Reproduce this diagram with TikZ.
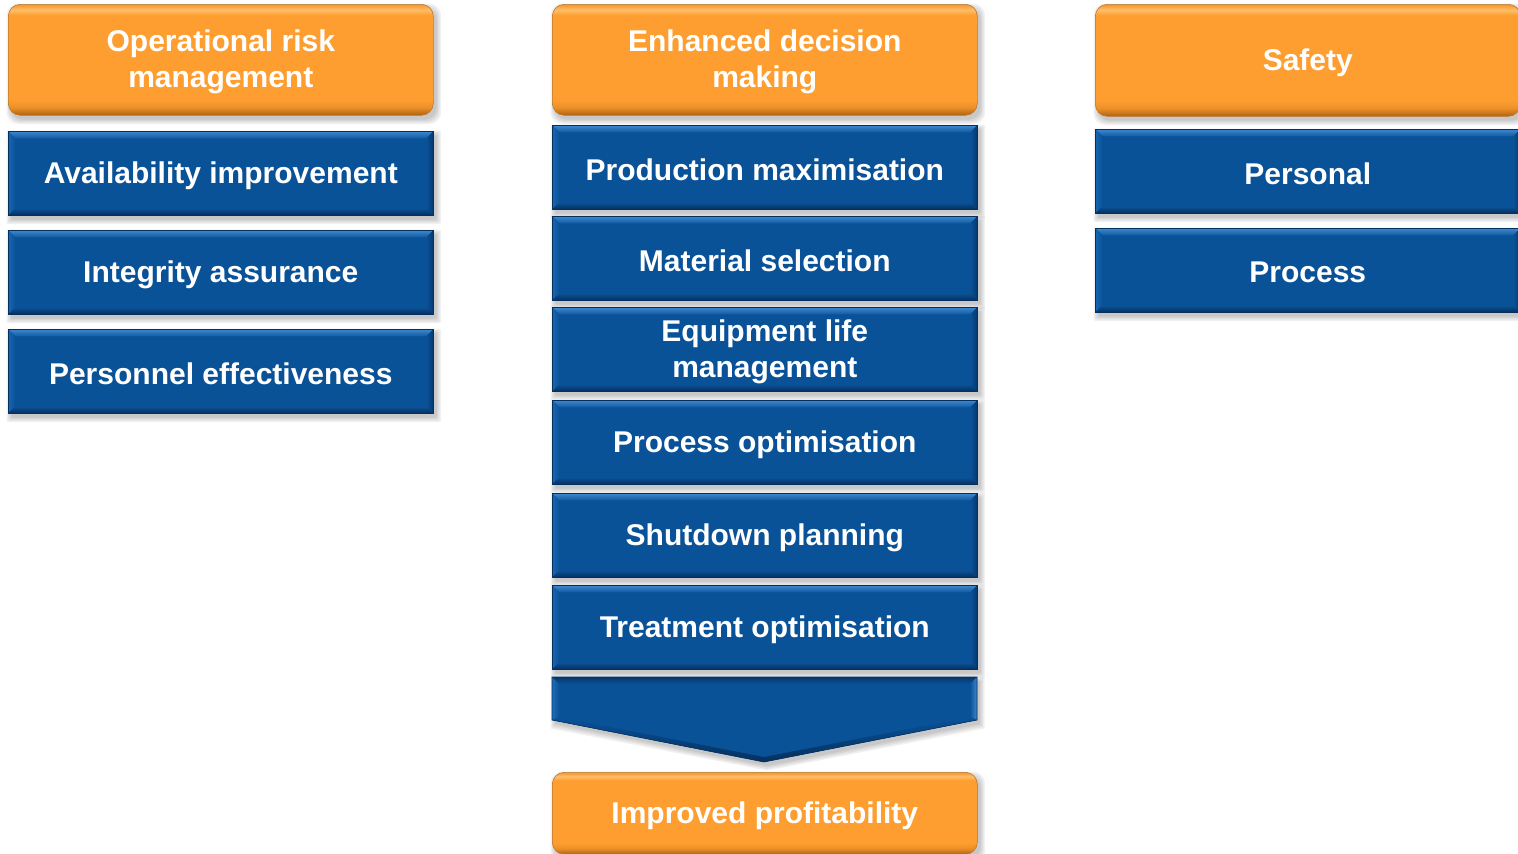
\documentclass[tikz,border=0pt]{standalone}
\usepackage{fontspec}
\setmainfont{Liberation Sans}
\usetikzlibrary{calc,backgrounds}

\definecolor{boxblue}{RGB}{10,82,152}
\definecolor{bevellight}{RGB}{60,136,208}
\definecolor{beveldark}{RGB}{5,48,94}
\definecolor{bevelside}{RGB}{22,102,178}
\definecolor{bevelright}{RGB}{6,56,108}
\definecolor{boxorange}{RGB}{254,158,48}
\definecolor{orangedark}{RGB}{176,98,16}
\definecolor{orangelight}{RGB}{255,190,104}

% vertical shading of the rounded orange boxes (box spans 25bp..75bp)
\pgfdeclareverticalshading{orangeshade}{100bp}{%
  color(0bp)=(orangedark); color(25bp)=(orangedark);
  color(28.5bp)=(boxorange!75!orangedark); color(32bp)=(boxorange);
  color(70bp)=(boxorange); color(72.5bp)=(orangelight);
  color(75bp)=(boxorange!85!orangedark); color(100bp)=(boxorange!85!orangedark)}

\newcommand\cellfont{\bfseries\fontsize{30}{36}\selectfont}

\tikzset{
  bluebox/.style={rectangle, inner sep=0pt, minimum width=425pt,
    fill=boxblue, draw=beveldark, line width=0.6pt,
    path picture={
      \path (path picture bounding box.north west) coordinate (NW)
            (path picture bounding box.north east) coordinate (NE)
            (path picture bounding box.south west) coordinate (SW)
            (path picture bounding box.south east) coordinate (SE);
      \shade[top color=bevellight, bottom color=boxblue!85!bevellight]
        (NW) -- (NE) -- ($(NE)+(-7pt,-7pt)$) -- ($(NW)+(7pt,-7pt)$) -- cycle;
      \shade[left color=bevelside, right color=boxblue]
        (NW) -- ($(NW)+(7pt,-7pt)$) -- ($(SW)+(7pt,7pt)$) -- (SW) -- cycle;
      \shade[left color=boxblue, right color=bevelright]
        (NE) -- ($(NE)+(-7pt,-7pt)$) -- ($(SE)+(-7pt,7pt)$) -- (SE) -- cycle;
      \shade[top color=boxblue, bottom color=beveldark]
        (SW) -- ($(SW)+(7pt,7pt)$) -- ($(SE)+(-7pt,7pt)$) -- (SE) -- cycle;
    }},
  orangebox/.style={rectangle, rounded corners=12pt, inner sep=0pt,
    minimum width=425pt, shade, shading=orangeshade,
    draw=orangedark!85, line width=0.6pt},
  celltext/.style={inner sep=0pt, text=white, font=\cellfont, align=center},
  shadowfill/.style={fill=black, opacity=0.06}
}

% blue bevelled box: name, left x, top y, height, text
\newcommand\bluecell[5]{%
  \node[bluebox, minimum height=#4pt, anchor=north west] (#1) at (#2,#3) {};
  \node[celltext] (#1-text) at ($(#1.center)+(0,2.5)$) {#5};}
% orange rounded box: name, left x, top y, height, text
\newcommand\orangecell[5]{%
  \node[orangebox, minimum height=#4pt, anchor=north west] (#1) at (#2,#3) {};
  \node[celltext] (#1-text) at ($(#1.center)+(0,2.5)$) {#5};}
% soft drop shadow under a named box
\newcommand\softshadow[2]{%
  \foreach \s in {0,1.5,3,4.5}{%
    \fill[shadowfill, rounded corners=#2]
      ($(#1.north west)+(3pt-\s*1pt,-4pt+\s*1pt)$) rectangle
      ($(#1.south east)+(3pt+\s*1pt,-4pt-\s*1pt)$);}}

\begin{document}
\begin{tikzpicture}[x=1pt,y=-1pt]
\useasboundingbox (0,0) rectangle (1518,854);
\clip (0,0) rectangle (1518,854);

% left column
\orangecell{orm}{8}{4}{111}{Operational risk\\management}
\bluecell{avail}{8}{131}{84}{Availability improvement}
\bluecell{integ}{8}{230}{84}{Integrity assurance}
\bluecell{pers}{8}{329}{84}{Personnel effectiveness}

% middle column
\orangecell{edm}{552}{4}{111}{Enhanced decision\\making}
\bluecell{prod}{552}{125}{84}{Production maximisation}
\bluecell{mat}{552}{216}{84}{Material selection}
\bluecell{equip}{552}{307}{84}{Equipment life\\management}
\bluecell{procopt}{552}{400}{84}{Process optimisation}
\bluecell{shut}{552}{493}{84}{Shutdown planning}
\bluecell{treat}{552}{585}{84}{Treatment optimisation}

% downward chevron
\coordinate (chevNW) at (552,677);
\coordinate (chevNE) at (977,677);
\coordinate (chevE) at (977,720);
\coordinate (chevtip) at (764,762);
\coordinate (chevW) at (552,720);
\fill[boxblue] (chevNW) -- (chevNE) -- (chevE) -- (chevtip) -- (chevW) -- cycle;
\shade[top color=beveldark!80!boxblue, bottom color=boxblue]
  (chevNW) -- (chevNE) -- ($(chevNE)+(-7pt,-7pt)$) -- ($(chevNW)+(7pt,-7pt)$) -- cycle;
\shade[left color=bevelside!80!bevellight, right color=boxblue]
  (chevNW) -- ($(chevNW)+(7pt,-7pt)$) -- ($(chevW)+(7pt,3pt)$) -- (chevW) -- cycle;
\shade[left color=boxblue, right color=bevellight]
  (chevNE) -- ($(chevNE)+(-7pt,-7pt)$) -- ($(chevE)+(-7pt,3pt)$) -- (chevE) -- cycle;
\shade[top color=boxblue, bottom color=beveldark]
  (chevW) -- ($(chevW)+(7pt,3pt)$) -- ($(chevtip)+(0pt,5pt)$) -- ($(chevE)+(-7pt,3pt)$)
  -- (chevE) -- (chevtip) -- cycle;
\draw[beveldark, line width=0.6pt, line join=miter]
  (chevNW) -- (chevNE) -- (chevE) -- (chevtip) -- (chevW) -- cycle;

\orangecell{profit}{552}{772}{82}{Improved profitability}

% right column
\orangecell{safety}{1095}{4}{112}{Safety}
\bluecell{personal}{1095}{129}{84}{Personal}
\bluecell{process}{1095}{228}{84}{Process}

% shadows behind every box
\begin{scope}[on background layer]
  \foreach \n in {orm,edm,safety,profit}{\softshadow{\n}{12pt}}
  \foreach \n in {avail,integ,pers,prod,mat,equip,procopt,shut,treat,personal,process}{\softshadow{\n}{2pt}}
  \foreach \s in {0,1.5,3,4.5}{%
    \fill[shadowfill]
      ($(chevNW)+(3pt-\s*1pt,-4pt+\s*1pt)$) -- ($(chevNE)+(3pt+\s*1pt,-4pt+\s*1pt)$)
      -- ($(chevE)+(3pt+\s*1pt,-4pt-\s*1pt)$) -- ($(chevtip)+(3pt,-4pt-\s*1pt)$)
      -- ($(chevW)+(3pt-\s*1pt,-4pt-\s*1pt)$) -- cycle;}
\end{scope}
\end{tikzpicture}
\end{document}
